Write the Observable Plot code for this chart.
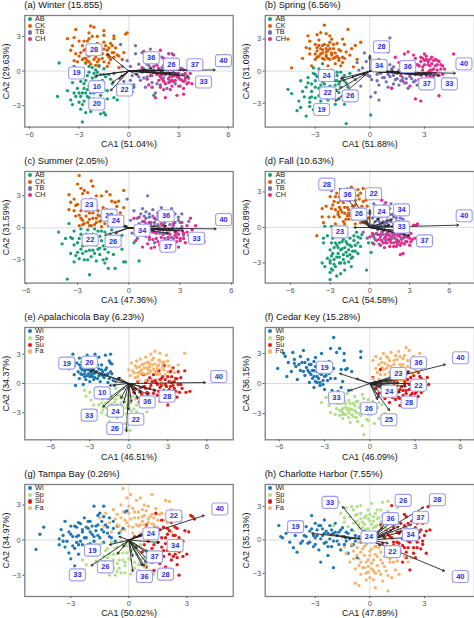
<!DOCTYPE html>
<html><head><meta charset="utf-8">
<script src="https://cdn.jsdelivr.net/npm/d3@7"></script>
<script src="https://cdn.jsdelivr.net/npm/@observablehq/plot@0.6"></script>
<style>
html,body{margin:0;padding:0;background:#fff}
#c{position:relative;width:474px;height:618px;overflow:hidden;font-family:"Liberation Sans",Arial,sans-serif}
#c svg{position:absolute;background:transparent}
.t{position:absolute;font-size:9.3px;color:#111;line-height:12px;white-space:nowrap}
.l{position:absolute;font-size:7.3px;color:#222;line-height:6.4px;height:6.4px;white-space:nowrap}
.l i{position:absolute;width:4.2px;height:4.2px;border-radius:50%;left:-7.2px;top:1.1px}
</style></head><body><div id="c"></div>
<script>
const seasonGroups=["AB","CK","TB","CH"], seasonColors=["#1b9e77","#d95f02","#7570b3","#e7298a"];
const estuaryGroups=["Wi","Sp","Su","Fa"], estuaryColors=["#1f78b4","#b2df8a","#e31a1c","#f6b56c"];
const titles=["(a) Winter (15.855)","(b) Spring (6.56%)","(c) Summer (2.05%)","(d) Fall (10.63%)","(e) Apalachicola Bay (6.23%)","(f) Cedar Key (15.28%)","(g) Tampa Bay (0.26%)","(h) Charlotte Harbor (7.55%)"];
const xTitles=["CA1 (51.04%)","CA1 (51.88%)","CA1 (47.36%)","CA1 (54.58%)","CA1 (46.51%)","CA1 (46.09%)","CA1 (50.02%)","CA1 (47.89%)"];
const yTitles=["CA2 (29.63%)","CA2 (31.09%)","CA2 (31.59%)","CA2 (30.89%)","CA2 (34.37%)","CA2 (36.15%)","CA2 (34.97%)","CA2 (35.13%)"];
const xDomains=[[-6.27,6.29],[-5.75,5.75],[-6.08,6.1],[-7.9,7.9],[-8,8.03],[-6.93,6.93],[-5.38,5.4],[-5.75,5.75]];
const yDomains=[[-4.85,4.81],[-5.23,5.2],[-5.18,5.28],[-4.7,4.73],[-5.76,5.73],[-5.63,5.6],[-4.82,4.75],[-5.1,5]];
const xTicks=[[-6,-3,0,3,6],[-3,0,3],[-6,-3,0,3,6],[-6,-3,0,3,6],[-6,-3,0,3,6],[-6,-3,0,3,6],[-3,0,3],[-3,0,3]];

const winter_AB=[-4.2,.7,-4.3,-2.2,-2.8,-4.4,-1.4,-3.8,-3.7,-1.7,-3.5,-2.5,-3.4,-2.9,-3.2,-2.2,-3.1,-1.5,-3,-2.7,-2.9,-.9,-2.9,-3.3,-2.8,-1.9,-2.7,-1.1,-2.7,-2.6,-2.6,-3.6,-2.5,-.4,-2.5,-1.6,-2.4,-2.3,-2.3,-3,-2.2,-1,-2.2,.3,-2.1,-1.9,-2,-2.8,-2,-.5,-1.9,-1.3,-1.8,.5,-1.8,-3.2,-1.7,-2.1,-1.6,-.8,-1.5,-1.6,-1.5,-3.6,-1.3,-2.4,-1.2,-.3,-1,-1.1,-.9,-2.3,-.7,-2.5,-3.3,.4,-3.1,-.4,-2.8,.2,-2.6,.7,-3.4,-1,-2.4,-1.3,-2.9,-2.2,-2.1,-.2,-2.6,-1.9,-1.5,.2,.3,-1.4,1.5,-2.1,-2.9,-.3,-2.7,-1.5,-2.6,-.8,-2.5,-2.2,-2.4,-.1,-2.3,-1.9,-2.2,-.6,-2.1,-1.4,-2.1,-2.4,-2,.1,-1.9,-.9,-1.8,-1.7,-1.8,-2.6,-1.7,-.3,-1.6,-1.2,-1.4,-.5,-1.3,-1.7,-1.1,-.7,-2.3,-3.5,-3,-1.9,-3.3,-1.9,-2.8,-2.9,-2.4,.4,-1.7,-3.7,-1.9,-.1];
const winter_CK=[-2.3,3.9,-2.1,3.8,-3.2,3.6,-1.5,3.5,-1.5,3.1,-3.7,2.8,-.1,3.3,-.2,3.2,-.9,3.05,-2.4,3.3,-2.2,3,-2.5,2.6,-3,2.6,-2.8,2.2,-3.4,2.2,-3.5,1.8,-3.2,1.5,-2.9,1.6,-2.7,1.1,-2.5,1.4,-3.1,.8,-2.6,.7,-2.4,.8,-2.1,1,-1.9,2.4,-1.7,2,-1.5,2.5,-1.3,1.8,-1.1,2.4,-1,2.2,-.9,1.6,-.7,1.4,-.6,1.3,-.3,1.6,-.9,2.8,-1.8,.4,-1.8,1,-1.5,.8,-1.3,.4,-2,.5,-.6,.3,-.4,1,-1.2,1.2,-2.6,1.9,-3.3,.9,-2.3,1.6,-1.6,1.5,-3,1.3,-2.8,1,-2.7,1.8,-2.6,1.1,-2.5,.9,-2.4,1.3,-2.3,.6,-2.2,1.9,-2,1.2,-1.9,.8,-1.8,1.7,-1.6,1.1,-1.5,1.9,-1.4,2.2,-1.3,1.4,-1.2,2,-1.1,1,-1,1.6,-.9,1.2,-.8,2,-2.7,2.6,-2.4,2.8,-3.3,2.9,-1.9,3,-1.2,.7];
const winter_TB=[-.9,-.2,-.4,.4,-.3,-.9,-.1,.9,.1,.4,.3,-1.2,.4,1.5,.5,-.3,.6,.6,.7,-.8,.8,1.6,.9,.2,1,-1.4,1,1,1.1,-.5,1.2,.5,1.3,1.9,1.4,-1,1.5,.1,1.6,-1.9,1.7,.8,1.7,-.3,1.8,1.4,1.9,-1.2,2,.3,2.1,-.6,2.2,1,2.3,-1.5,2.4,.1,2.5,-.4,2.6,1.5,2.7,-.9,2.8,.5,2.9,-.2,3.1,-1.3,3.2,.2,3.4,-.8,3.5,.1,.2,-.4,.8,-.1,.4,2.2,-.5,2.3,1.1,.6,1.3,.3,1.4,-.4,1.6,.7,1.8,.2,1.9,-.5,2,-.1,2.1,.5,2.2,-.3,2.3,.7,2.4,-.7,2.5,.4,2.6,-.2,2.7,.2,2.9,.3,3,-.6,.6,-.5,.9,-.6,1.1,1.3,1.5,1.1,2,1.2,3.3,-.3,.1,-.8,1.7,-1.1,2.8,-1.1];
const winter_CH=[.8,.3,.9,1.7,1.1,-.7,1.3,1.2,1.4,-1.4,1.5,-.1,1.6,-2.3,1.7,.5,1.8,-.8,1.9,1.8,2,-.3,2.1,1.1,2.2,-1.1,2.3,.4,2.4,-.6,2.5,-1.6,2.6,.1,2.7,1.4,2.7,-.9,2.8,-.3,2.9,.7,3,-1.3,3,-.5,3.1,.2,3.2,-.8,3.3,-2,3.4,-.2,3.5,-1.1,3.6,-.6,3.7,-.2,3.8,-1.1,4.2,-1,2.9,-2.1,1.2,-1.2,.2,-1.8,2.2,-2.3,3.3,-1.5,2.5,-.9,2,-.7,1.6,.8,2.1,-1.6,1.9,-.4,2.6,-.5,1.7,-.3,1.8,.2,1.9,-.5,2.1,-.9,2.2,-.2,2.3,.1,2.4,-1,2.5,-.2,2.6,-.8,2.7,-.4,2.8,-.8,2.9,-.5,3,-.2,3.1,-.7,3.2,-.3,3.3,-.9,3.4,-.6,2.2,.7,1.5,.4,2.4,1.5,1.3,-.4,3,.3,3.6,-1,1.9,-1.4,2.6,-1.3];

const spring_AB=[-4.5,-1.7,-4.3,-2.1,-4,-3.7,-3.9,-2.8,-3.8,-.9,-3.8,-3.4,-3.6,-2.4,-3.5,-1.5,-3.5,-4.2,-3.4,-.6,-3.3,-2.5,-3.3,-3.3,-3.2,-1.2,-3.2,-1.9,-3.1,-3.6,-3.1,-.2,-3,-2.5,-3,-.9,-2.9,-3.2,-2.8,-1.6,-2.8,.2,-2.7,-2.8,-2.6,-1,-2.5,-.4,-2.5,-1.9,-2.4,-3.2,-2.3,-2.7,-2.2,-1.4,-2.1,.1,-2.1,-.8,-2,-2,-1.9,-3.1,-1.9,-1.3,-1.8,-.4,-1.8,-.9,-1.7,-2.6,-1.6,-1.5,-1.6,-.1,-1.5,-2.4,-1.4,-.9,-1.4,-3.1,-1.4,-.4,-1.2,-1.5,-1.3,-4.9,.05,-4.1,-1.1,-.2,-3,-.3,-2.6,.7,-3.1,.3,-2.4,-2.5,-3.2,-2.4,-3,-1.5,-2.9,-.5,-2.8,-2.3,-2.7,-1.3,-2.6,-2.3,-2.5,-1.2,-2.4,-.7,-2.3,-1.9,-2.2,-.3,-2.1,-1.5,-2,-.6,-2,-2.5,-1.9,-1.7,-1.8,-.1,-1.7,-1.2,-1.7,-2,-1.5,-.7,-3.4,-1.1,-3.7,-1.9,-3.3,-2.9,-2.6,-3.1,-2.2,-2.2,-1.3,-1.1,-1.9,-.9];
const spring_CK=[-4.5,3,-4.3,.3,-2.5,4.3,-3.4,3.3,-2.9,3.4,-3.3,2.8,-2.7,3.6,-2.4,3.5,-1.5,3,-2.1,3,-1.2,3.9,-3.5,2.2,-3,2.5,-2.8,2.9,-2.6,2.4,-2.4,2.1,-2.2,2.7,-2,2.1,-1.8,2.6,-1.6,1.9,-1.4,2.5,-1.3,1.8,-3.7,1.2,-3.3,1.6,-3,1.1,-2.9,1.9,-2.7,1.6,-2.6,1.2,-2.4,1.5,-2.2,1.1,-2.1,1.7,-1.9,1.3,-1.9,.7,-1.7,1,-1.6,.5,-1.4,1.2,-1.1,1.5,-1,2.1,-.8,2.4,-.7,1.1,-.5,2.7,-.9,.4,-3.2,.5,-2.3,.5,-2.6,2,-2.3,1.9,-3,1.6,-2.9,2.2,-2.8,1.4,-2.7,2.1,-2.6,1.7,-2.5,2.5,-2.5,1.1,-2.4,1.8,-2.3,1.2,-2.2,2.1,-2.1,1.5,-2,2.5,-2,1.2,-1.9,1.7,-1.8,1.4,-1.7,2,-1.7,1.2,-1.5,1.3,-3.3,2.1,-2.8,2.4,-2.4,1.4,-2.3,2.4,-2.9,1.3,-1.5,.8,-2.2,3.3];
const spring_TB=[-1.5,-.6,-1.2,-1.4,-1,-2,-.8,-.8,-.7,.8,-.5,-1.4,-.4,.3,-.3,1.7,-.2,.9,-.1,-.4,0,1.2,.1,-.8,.2,.5,.3,-2,.4,-.3,.5,-1.3,.6,.7,.7,-.6,.5,-2.7,.8,.2,.9,-1,1,1.8,1.1,3.1,1.1,-.5,1.2,-1.6,1.3,.4,1.4,-.8,1.5,-.2,1.6,-1.3,1.7,.6,1.8,-.6,1.9,-1.1,2,-.1,2.1,-1.6,2.2,-.5,2.3,.3,2.4,-1,2.5,-.3,2.6,-1.3,2.7,.5,2.9,-.7,3.1,-.3,3.3,-.1,3.5,-.5,.05,-2.4,0,-.5,.3,.3,.4,-.9,.6,-.2,.8,-.6,.9,.3,1,-.3,1.2,.2,1.3,-.4,1.5,-.7,1.6,.1,1.7,-.9,1.8,.3,2,-.7,2.1,-.2,2.3,-.7,2.5,-.9,2.7,-.3,1.3,-1.2,1.1,.6,.5,1.1,-.3,-.3,-.6,.1,1,-1.5,2,-1.1];
const spring_CH=[1.2,-1.6,1.4,1.3,1.6,.8,1.7,-.4,1.9,1.6,2,.2,2.1,1.8,2.2,-1.4,2.3,.7,2.4,-.2,2.5,1.2,2.5,-2.6,2.7,-.8,2.7,.5,2.8,1.3,2.8,-2.8,2.9,.1,3,1,3.1,-.4,3.1,1.4,3.2,.6,3.3,.1,3.3,1.1,3.4,-.6,3.4,.7,3.5,.2,3.6,1.1,3.6,-.2,3.7,.6,3.8,-.4,3.8,.9,3.9,.2,4,-.3,4.1,-.7,3.8,-2.3,4.6,1.6,2.9,-1.3,2.4,1.5,1.8,-.9,3,1.6,3.5,-.9,2.6,.6,3.2,-.9,4,.5,2.6,.6,2.7,-.2,2.8,.9,2.9,.4,3,-.2,3,.6,3.1,1.1,3.2,-.1,3.2,.9,3.3,.5,3.4,.1,3.5,1,3.5,-.2,3.6,.5,3.7,.1,3.7,1,2.4,.2,2.2,-.3,3,-.8,3.3,-.5,3.9,.6,4.1,.2,2.9,1.2,2.3,.9,3.4,1.3];

const summer_AB=[-4.1,-.4,-3.9,-1.5,-3.6,-4.8,-3.7,-1,-3.5,.4,-3.4,-2.4,-3.2,-.3,-3.2,-1.6,-3.2,-3.2,-3,-2.3,-2.9,-1,-2.9,-2.9,-2.8,-.1,-2.7,-1.7,-2.6,-3,-2.5,-2.2,-2.5,-.6,-2.3,-1.4,-2.3,-4.4,-2.2,-2.7,-2.2,.2,-2.1,-2.1,-2,-.9,-1.9,-3.1,-1.9,-1.6,-1.8,-.3,-1.7,-2.5,-1.6,-1.2,-1.5,-3,-1.4,-2,-1.4,-.4,-1.3,-2.9,-1.2,-3.8,-1.1,-1.5,-1,-.2,-.9,-2.5,-.8,-3.8,-.6,-1.1,-.4,-2,-.3,-3.2,-.4,-.7,-.2,-3.2,.6,-3.1,.3,-1.4,-2.8,-2,-2.4,-1.2,-1.7,-1.9,-3.4,-.9,-2.6,-1.1,-2.1,-.6,-3.3,-1,-3,-1.4,-2.8,-.6,-2.7,-2.4,-2.6,-1.2,-2.5,-1.6,-2.4,-.2,-2.3,-2.1,-2.2,-1,-2.1,-1.5,-2,-.1,-2,-2.4,-1.9,-1,-1.8,-2,-1.7,-.8,-1.6,-.3,-1.5,-1.7,-1.3,-.9,-1.2,-2.3,-1.1,-.6,-2.4,-3,-3.1,-2.6,-.7,-1.6,-.9,-1.2,-1.4,-3.3];
const summer_CK=[-2.9,4.9,-3,4.1,-2.2,4.4,-2.1,3.9,-2.8,3.7,-2.4,3.3,-3.5,3.1,-2.7,3.2,-3.2,2.7,-1.3,3.4,-1.1,3.1,-.3,3.5,-1.6,3,-3.4,2.4,-3.5,1.7,-3.2,1.6,-3,2.2,-2.9,1.2,-2.8,.9,-2.6,.4,-2.5,1.6,-2.3,.8,-2.1,1.4,-2,.3,-1.9,2.1,-1.8,1.2,-1.7,.6,-1.5,1.9,-1.4,.8,-1.2,1.3,-1,2.5,-.8,2.4,-.6,2.5,-.5,1.4,-.4,.6,-.3,1.9,-1.6,.1,-2.4,1.7,-1.9,.9,-2.9,.2,-2.2,.2,-.8,.7,-3.1,1.1,-1.1,.4,-3.1,2.1,-2.8,1.6,-2.7,.7,-2.6,2.3,-2.5,1.1,-2.4,.5,-2.3,1.4,-2.2,2.7,-2.1,.9,-2,1.7,-1.9,.5,-1.8,1.6,-1.7,1.1,-1.6,.7,-1.5,1.3,-1.4,.4,-1.3,1.7,-1.1,.9,-.9,1.5,-.7,2,-2.6,3.5,-1.9,3,-2.3,.2,-1.2,.2,-2.7,.3];
const summer_TB=[-.1,2.7,.1,.7,.2,-.5,.3,1.6,.5,.9,.5,-1,.7,1.3,.7,.1,.8,1.8,.9,-.7,1,1.5,1,.4,1.1,3,1.2,1,1.3,-.3,1.4,1.7,1.5,.5,1.5,-1.4,1.7,1.1,1.8,-.5,1.9,1.9,2,.3,2.1,-1,2.2,1,2.3,-.1,2.4,.8,2.5,-.9,2.6,.2,2.7,1.3,2.8,-.5,2.9,.7,3,-.1,3.1,1.3,3.2,-.7,3.5,.6,2.5,1.8,.6,.4,1.2,-1.1,1.5,.2,.4,.1,.8,.6,1,.9,1.1,-.2,1.3,.5,1.4,1.1,1.5,-.4,1.6,.8,1.7,.3,1.8,-.2,1.9,.9,2,-.5,2.1,.5,2.2,1.4,2.3,-.5,2.4,.3,2.5,.9,2.6,-.1,2.7,.5,2.8,-.1,3,.5,3.1,.1,.9,1.1,1.2,1.3,1.9,1.4,2.9,1];
const summer_CH=[.3,.9,.4,-1.2,.5,-.3,.6,1,.8,-1.8,.9,.2,1,-.8,1.1,-1.5,1.2,.5,1.3,-1.9,1.4,-.4,1.5,.9,1.6,-1,1.7,-.1,1.8,-1.6,1.9,.4,2,-.6,2,-1.3,2.1,.1,2.2,-2.2,2.3,-.9,2.4,-.2,2.5,-1.5,2.6,.4,2.7,-.7,2.8,-1.3,2.9,-.2,3,-1,3.1,.5,3.2,-.5,3.3,-1.4,3.4,.2,3.5,-.7,3.6,.9,3.7,-.2,3.9,.2,4,-.9,4.3,-.6,4.4,-1.3,1.7,1.4,2.9,-1.8,2.3,-1.5,1.2,-.4,1,-.3,1.2,-.9,1.3,.2,1.4,-1.1,1.6,-.5,1.7,-1.3,1.8,-.1,1.9,-.9,2,-.2,2.1,-1.5,2.2,-.5,2.3,-1.1,2.4,-.6,2.5,-.1,2.6,-1,2.7,-.4,2.8,-.9,2.9,-.6,3,-1.2,3.1,-.1,3.2,-1,3.4,-.4,.7,-.6,.9,.6,1.5,-1.8];

const fall_AB=[-3.5,-1.3,-3.5,-.9,-3.6,-3,-3.4,-3.3,-3.2,-2.6,-3.2,-.7,-3,-4.4,-3,-3.8,-3,-1.9,-3,-3,-2.9,-1.3,-2.9,-2.4,-2.8,-3.6,-2.8,-.9,-2.7,-2.7,-2.7,-1.7,-2.6,-3.3,-2.5,-4.1,-2.5,-.6,-2.4,-2.2,-2.3,-1.3,-2.3,-3,-2.2,-3.9,-2.1,-1.8,-2.1,-.2,-2,-2.7,-2,-1,-1.9,-3.6,-1.8,-2.1,-1.8,-.5,-1.7,-1.4,-1.6,-2.9,-1.5,-2.3,-1.5,-.9,-1.4,-3.3,-1.4,-1.6,-1.3,-2.5,-1.2,-1.1,-1.1,-2,-1,-.4,-.9,-1.3,-.9,-2.2,-.7,-1.6,-.6,-.6,-.25,-3.6,-.1,-1.3,.1,-2.1,.2,-1.3,.3,-.6,-2.5,-1.5,-2.9,.1,-3.4,.1,-3,-2.8,-2.9,-3.5,-2.8,-2.2,-2.7,-3.1,-2.6,-1.3,-2.5,-2.5,-2.4,-1.7,-2.3,-2.5,-2.2,-1.9,-2.2,-3,-2.1,-1.2,-2,-2.3,-1.9,-1.7,-1.9,-3,-1.8,-1.2,-1.7,-2.4,-1.6,-1.9,-1.5,-1.5,-1.4,-2.6,-1.3,-2,-1.2,-.7,-1.1,-1.5,-.9,-.8,-.7,-.9,-2.2,-.4];
const fall_CK=[-4,-.7,-3.6,.9,-3.6,1.6,-3.5,.4,-3.3,1.8,-3.1,.9,-3,2.6,-2.9,3.1,-2.9,1.6,-2.7,2.2,-2.6,.3,-2.6,1.5,-2.5,2.9,-2.4,2.1,-2.3,.9,-2.3,2.6,-2.2,1.5,-2.1,3.2,-2,.5,-2,2.1,-1.9,1.2,-1.8,2.7,-1.7,1.7,-1.6,.7,-1.5,2.3,-1.4,3.4,-1.3,1.2,-1.2,2.8,-1.1,.3,-1.1,1.9,-1,1.4,-.9,3.2,-.8,2.4,-.7,.8,-.6,1.8,-.5,3.3,-.4,.4,-.3,1.2,-.3,2.3,-.1,.8,-1.6,1.2,-2.4,1.1,-2.7,.9,-1.3,.7,-1.9,.3,-2.8,1.9,-2.6,2.6,-2.4,1.3,-2.3,1.7,-2.2,2.3,-2.1,1.3,-2,2.7,-1.9,1.7,-1.8,.7,-1.7,2.3,-1.6,1.5,-1.5,1,-1.4,2.8,-1.3,1.8,-1.2,.8,-1.1,2.3,-1,1,-.9,2.7,-.8,1.6,-.7,2.9,-.7,.4,-.5,2.2,-.4,1.5,-.2,1.8,-1.7,1];
const fall_TB=[-.5,-.4,-.3,.4,-.2,-.9,0,1.2,.1,.2,.2,.8,.2,-.7,.4,-1,.4,.5,.5,1.6,.6,-.2,.7,.9,.7,-1.4,.8,.2,.9,1.3,1,-.6,1,.5,1.1,1.9,1.2,-1.1,1.2,.1,1.3,.9,1.4,-.4,1.5,.6,1.5,1.6,1.6,-.9,1.7,.1,1.8,.9,1.9,-.4,2,.5,2.1,-1.3,2.2,.1,2.3,.8,2.4,-.5,2.5,.3,2.7,-.2,2.8,.3,1.6,2,.3,2,.9,.9,1.3,.4,.6,.7,.4,1.1,.6,.1,.7,.5,.9,-.4,1,1.1,1.1,.3,1.2,-.6,1.3,.6,1.4,.2,1.5,1.1,1.5,-.3,1.6,.5,1.7,1.1,1.8,.3,1.8,-.7,1.9,.1,2,.8,2,-1,2.1,.4,2.2,-.3,2.3,.3,2.4,-.9,2.5,.7,2.6,-.1,.8,-.8];
const fall_CH=[0,-.8,.2,-.5,.3,-1.4,.5,-1.1,.6,-.6,.8,-1.5,.9,-1.1,1,-.3,1.1,-1.7,1.2,-.8,1.3,-1.3,1.4,-.6,1.5,-1.6,1.6,-1,1.7,-.5,1.8,-1.3,1.9,-.9,2,-1.6,2,-.3,2.1,-1.1,2.2,-.6,2.3,-1.5,2.3,-2.3,2.5,-2.2,2.4,-1,2.5,-.5,2.6,-1.4,2.7,-.8,2.8,-.3,2.8,-1.2,2.9,-.7,3,-1.5,3.1,-.5,3.2,-1,3.3,.2,3.4,-.9,3.6,.3,3.7,-.8,3.8,-1.3,3.5,.2,2.2,.5,1.2,2.1,.9,2.3,2.1,-1.4,1.5,-1.1,.3,-.8,.5,-.5,.7,-1,.8,-.6,1,-1.3,1.1,-.9,1.2,-1.3,1.4,-1,1.5,-.7,1.6,-1.3,1.7,-.8,1.8,-1.6,1.9,-.6,2,-1.2,2.1,-.7,2.2,-1.2,2.3,-.8,2.4,-1.3,2.5,-.9,2.6,-.7,2.7,-1.2,2.8,-.8,3,-.9,3.1,-1.2,1.3,-.5];

const apa_Wi=[-4.6,1.5,-4.3,3,-4.2,1.8,-4.2,.9,-4.1,-.2,-4,2.1,-3.9,1.2,-3.8,2.6,-3.8,.5,-3.7,1.6,-3.6,2.2,-3.6,.9,-3.5,-.1,-3.4,1.3,-3.3,1.9,-3.3,.4,-3.2,2.9,-3.1,1,-3.1,2.3,-3,1.5,-3,.2,-2.9,1.2,-2.8,2.6,-2.8,.7,-2.7,1.9,-2.6,1.1,-2.6,3,-2.4,.5,-2.3,1.5,-2.3,2.7,-2.2,.9,-2.1,1.9,-2,1.2,-1.9,.6,-1.8,2.9,-1.7,1.6,-1.6,.1,-1.5,2.3,-1.4,2.1,-1.3,1,-1.4,3,-1.2,.3,-1.1,-.2,-.8,.5,-1.3,2,-1.8,.9,-3.4,.7,-2.7,.4,-3.5,1.6,-2.2,.2,-3.8,1.9,-3.7,1,-3.6,1.4,-3.5,2,-3.4,1,-3.3,1.4,-3.2,.8,-3.2,1.8,-3.1,1.4,-3,.7,-3,2,-2.9,.9,-2.8,1.5,-2.7,1,-2.6,.6,-2.6,1.7,-2.5,1.2,-2.4,1.9,-2.3,.8,-2.1,1.4,-2,.8,-1.8,1.4,-1.6,1,-1.5,.5,-1.4,1.2];
const apa_Sp=[-3.4,-.7,-3.3,-1.3,-3,-.9,-2.9,-1.7,-2.7,-2.2,-2.6,-.6,-2.5,-2.8,-2.4,-1.3,-2.3,-2.2,-2.2,-.4,-2.1,-3,-2,-1.6,-1.9,-2.4,-1.8,-.7,-1.7,-3.2,-1.6,-1.9,-1.5,-2.7,-1.5,-3.9,-1.4,-1.2,-1.3,-2.1,-1.3,-3.3,-1.2,-4.2,-1.1,-2.7,-1,-.5,-1,-1.6,-.9,-2.2,-.9,-3.5,-.8,-2.9,-.7,-1.2,-.6,-2,-.5,-3.1,-.4,-.5,-.4,-1.5,-.3,-4.1,-.2,-2.5,-.1,-1.2,-.1,-3.4,-.2,-4.6,.1,-2,.1,-4.8,.3,-.7,.4,-2.6,.5,-1.6,.6,-2.9,.8,-3.2,1.4,-2.9,1,-1.3,.2,-3.3,-2.3,-1,-2.1,-2,-2,-2.7,-1.9,-1.3,-1.8,-2,-1.7,-2.5,-1.6,-1.2,-1.5,-3.2,-1.4,-2.2,-1.3,-1.5,-1.2,-2.9,-1.1,-1.9,-1,-3.3,-.9,-1.2,-.8,-2.4,-.7,-3.3,-.6,-1.5,-.5,-2.5,-.3,-1.9,-.2,-3.1,-.1,-2.2,0,-1.2,.2,-2.8,.3,-1.3,.6,-2.2];
const apa_Su=[.2,-.2,.4,-.9,.5,-.6,.6,-1.5,.7,.2,.9,-.4,1,-1.1,1.1,.9,1.2,-1.6,1.3,-.5,1.4,.3,1.5,-1,1.6,.6,1.7,-.2,1.8,-1.5,1.9,.9,2,-.7,2.1,.1,2.2,-1.2,2.3,1.3,2.4,-.4,2.5,.5,2.6,-1,2.7,1.8,2.8,-.1,2.9,-1.5,3,.7,3.1,-.6,3.2,1.2,3.3,-1,3.3,.1,3.4,1.6,3.5,-.5,3.6,.5,3.7,-1.4,3.8,1.2,3.8,-.1,3.9,-.9,4,.6,4.1,-.5,4.3,1.3,4.4,-.9,4.7,-.8,.8,-1.9,3,-2.2,2.4,-1.8,.9,-.9,1.2,-.3,1.4,-.9,1.6,-.5,1.8,.2,1.9,-1,2,.3,2.2,-.1,2.3,-.8,2.4,.4,2.5,-.2,2.6,.7,2.7,-.7,2.8,.4,2.9,-.3,3,-1,3.1,.2,3.2,-.3,3.3,.7,3.4,-.2,3.5,.2,3.6,-.8,3.7,.5,4,-.1,1.3,.1];
const apa_Fa=[0,1.4,.1,.8,.2,2.1,.3,1.3,.4,-.1,.5,1.8,.5,.6,.6,2.3,.7,1.1,.8,1.7,.8,.3,.9,2.5,1,1.4,1.1,2,1.2,.9,1.3,2.7,1.3,.3,1.4,1.6,1.5,2.2,1.6,1.1,1.7,3,1.7,.5,1.8,1.9,1.9,2.6,2,1.3,2,3.3,2.1,.4,2.2,1.8,2.3,2.4,2.4,1,2.4,3.1,2.5,.1,2.6,1.7,2.7,2.2,2.8,.9,2.9,2.9,3.1,1.8,3.2,.3,3.3,1.4,3.5,1.1,3.8,1.9,4.3,3.1,.9,1,1.6,1.7,2.2,.9,.4,1.1,.6,1.6,.7,.7,.9,1.3,1,1.9,1.1,1,1.2,1.6,1.3,2.1,1.4,1,1.5,1.4,1.6,2,1.7,1.3,1.8,2.4,1.9,1.5,2,2,2.1,1.1,2.2,1.5,2.3,1.9,2.4,1.4,2.6,2.1,2.7,1.4,2.8,1.9,3,1.2,3,2.3,2.4,2.3];

const ced_Wi=[-6.1,1.5,-5.7,3,-5.6,2.7,-5.5,.7,-5.4,2.1,-5.2,1.2,-5.1,3.1,-5,2.4,-4.9,1.7,-4.8,.4,-4.6,2.7,-4.6,1.3,-4.5,2.1,-4.4,3.3,-4.3,.8,-4.2,1.6,-4.1,2.4,-4,.1,-4,1.1,-3.9,1.9,-3.8,.5,-3.7,-.4,-3.7,1.3,-3.6,2.6,-3.5,.7,-3.5,.1,-3.4,1.8,-3.3,-.2,-3.3,1,-3.2,3,-3.1,.3,-3,1.7,-3,-.6,-2.9,.8,-2.7,2.2,-2.6,1.2,-2.6,3.5,-2.5,-.7,-2.4,4.6,-2.3,.5,-2.2,3.1,-2.1,-.8,-2,3.5,-1.9,1.4,-1.8,.2,-1.7,3,-1.6,1.4,-1.5,1.5,-1.4,-.7,-1.7,2.3,-.6,3.2,-.6,2.6,-1.9,-.4,-1.2,1.2,-4.4,1.2,-4.3,2.1,-4.1,1.3,-4,1.9,-3.9,.9,-3.8,1.3,-3.7,2.2,-3.7,.7,-3.6,1.7,-3.6,.2,-3.5,1.2,-3.4,.5,-3.4,1.4,-3.3,.1,-3.2,.9,-3.2,1.6,-3.1,-.1,-3,.7,-2.9,1.3,-2.8,.3,-2.7,1,-2.6,.5,-2.4,1.5,-4.7,1.9,-5,2];
const ced_Sp=[-3.2,-1.9,-2.9,-1.4,-2.7,-2.2,-2.6,-2.9,-2.4,-1.8,-2.3,-3.1,-2.2,-2.5,-2.1,-1.3,-2,-3.2,-2,-2,-1.9,-2.7,-1.8,-3.5,-1.7,-1.7,-1.6,-2.4,-1.6,-3.1,-1.5,-1,-1.4,-2.9,-1.3,-3.9,-1.3,-2,-1.2,-2.6,-1.1,-3.3,-1,-1.3,-1,-2.2,-.9,-2.9,-.8,-3.8,-.8,-1.8,-.7,-2.4,-.6,-3.2,-.5,-1.1,-.5,-4.2,-.4,-2.1,-.4,-5.1,-.3,-2.9,-.2,-3.6,-.1,-1.6,-.1,-3.7,0,-2.5,.1,-3.1,.2,-1.8,.3,-4,.5,-2.4,.6,-3.5,.8,-2.1,1,-3,-1.4,-2.5,-1.8,-2.9,-2.2,-2,-2,-2.7,-1.9,-1.8,-1.8,-2.5,-1.7,-3.1,-1.6,-2,-1.5,-2.6,-1.4,-1.7,-1.4,-3.4,-1.3,-2.6,-1.2,-3.1,-1.1,-2,-1,-2.7,-.9,-3.4,-.9,-1.8,-.7,-3,-.6,-2.1,-.5,-2.6,-.4,-1.5,-.2,-2.4,-.1,-3.1,.1,-2.2,.3,-2.7,.6,-1.9,-1.8,-3.1];
const ced_Su=[.2,.6,.4,-.5,.6,-1,.7,.2,.8,1.5,.9,-.8,1,-1.5,1.1,.3,1.2,-.5,1.3,-1.9,1.4,.7,1.5,-1,1.6,-.2,1.7,-1.6,1.8,.4,1.9,-.8,2,-2.2,2,.9,2.1,-.3,2.2,-1.2,2.3,-1.9,2.3,.2,2.4,-.7,2.5,1.1,2.6,-1.5,2.6,-.1,2.7,.6,2.8,-1,2.9,-.4,2.9,-1.8,3,.3,3.1,-.8,3.2,1.1,3.2,-1.3,3.3,-.2,3.4,.5,3.5,-.7,3.6,.2,3.7,-.3,3.8,.6,3.9,-.1,.7,1.4,1.9,-1.4,2.4,-1,1.4,-.7,.9,-.3,1.2,.2,1.4,-.4,1.5,-1.4,1.6,.3,1.7,-.8,1.8,-.2,1.9,.5,2,-.6,2,-1.5,2.1,.4,2.2,-.7,2.3,-.1,2.4,-1.5,2.5,.4,2.6,-.6,2.7,-1.2,2.8,.2,2.8,-.6,2.9,.8,3,-1,3.1,-.2,3.3,.7,3.4,-.9,3.6,-.4];
const ced_Fa=[.2,.5,.2,2.3,.4,1.5,.4,2.7,.6,1.9,.7,.9,.7,2.5,.9,3,.9,1.4,1,2,1.1,.2,1.2,2.6,1.3,1.1,1.4,3.1,1.4,1.7,1.5,.6,1.6,2.3,1.7,2.8,1.8,1.3,1.8,-.2,1.9,3.2,2,1.9,2.1,.7,2.2,2.5,2.3,1.2,2.4,3.6,2.5,1.7,2.5,.1,2.6,3.3,2.7,2.2,2.8,1,2.9,2.7,3,1.4,3.1,2.2,3.3,2,3.4,1.5,3.3,3,1.6,1,1.1,1.5,.5,-.4,2.2,.4,.6,.4,.8,1.6,1,.9,1.2,1.8,1.3,2.3,1.5,1.3,1.6,1.9,1.7,.7,1.8,2.4,1.9,1.2,2,2.7,2.1,1.6,2.2,1.9,2.3,2.8,2.4,.9,2.5,2.3,2.6,1.2,2.7,1.6,2.9,1.9,3,2.4,3.1,1.2,.8,2.1,1.1,2.7,.5,1.1,2,.3];

const tam_Wi=[-4.8,-.8,-4.6,.5,-4.4,1.1,-3.6,.1,-3.6,-.4,-3.5,.9,-3.4,.4,-3.3,-.6,-3.3,1.6,-3.2,-.1,-3.1,-1.1,-3.1,.7,-3,-1.6,-3,1.2,-2.9,.3,-2.8,-.7,-2.8,-2.2,-2.7,1.1,-2.7,-.2,-2.6,.4,-2.6,-1.2,-2.5,1.4,-2.4,.7,-2.4,-.4,-2.3,1.9,-2.2,-.9,-2.2,.2,-2.1,1,-2,-.3,-2,1.6,-1.9,.5,-1.8,-.1,-1.8,2.9,-1.7,1.2,-1.6,2.1,-1.6,.4,-1.5,2.3,-1.4,.9,-1.3,2,-1.3,-.2,-1.2,1.3,-1.1,.6,-1,1.9,-.9,.2,-.8,1,-.7,-.1,-.5,.6,-.3,1,-.2,2.4,-.1,2.5,-1.3,2.9,-3,.5,-2.9,-.5,-2.8,1.2,-2.7,.3,-2.6,1.5,-2.5,-.1,-2.4,.9,-2.3,.2,-2.2,1.1,-2.1,-.4,-2.1,1.6,-2,.7,-1.9,1.2,-1.8,.3,-1.7,.8,-1.6,1.3,-1.5,.2,-1.4,1.6,-1.3,.7,-1.1,1.1,-1,.3,-.8,1.6,-.6,1.2,-3.4,-.1,-2.6,-.4];
const tam_Sp=[-2.4,-1.7,-2.2,-2.1,-2,-1.1,-1.9,-.6,-1.7,-1.8,-1.6,-1,-1.5,-2.4,-1.4,-.3,-1.3,-1.4,-1.2,-2.7,-1.1,-.7,-1,-1.9,-.9,-.2,-.8,-1.2,-.8,-2.4,-.7,-3,-.6,-.6,-.5,-1.7,-.4,-.1,-.4,-2.8,-.3,-1.1,-.2,-2.2,-.1,-.5,0,-1.6,.1,-2.9,.1,-.9,.2,.1,.3,-1.9,.4,-1.2,.5,-2.6,.6,-.4,.7,-1.6,.8,-2.3,.9,-.9,1,-1.7,1.1,-2.6,1.3,-2.9,1.4,-1.3,-1,-3,-.5,-2.4,-.2,-2.8,.6,-2,-.8,-1.7,-1.2,-1.8,-1.8,-1.3,-1.6,-.4,-1.4,-1.8,-1.2,-.9,-1,-1.2,-.9,-2.2,-.7,-.7,-.6,-2,-.5,-1.1,-.3,-1.7,-.3,-.4,-.1,-1.1,.1,-1.7,.2,-.8,.3,-2.4,.4,-.5,.6,-1.1,.8,-1.5,1,-1.1,1.2,-1.2,-.6,-2.7,-1.1,-1.5,.5,-2.1,.9,-2,-.2,-1.9];
const tam_Su=[.3,.3,.4,-.6,.6,.4,.7,-1,.8,-.4,.9,1.3,1,-.1,1.1,-1.6,1.2,-.7,1.3,.6,1.4,-1.2,1.4,2.3,1.5,-.2,1.6,-2,1.6,.9,1.7,-.6,1.7,1.7,1.8,-1.4,1.9,.2,1.9,-2.3,2,-.9,2,1,2.1,-.2,2.2,1.5,2.2,-1.7,2.3,-.7,2.4,.4,2.4,-1.2,2.5,-2.1,2.5,1,2.6,-.4,2.6,-3,2.7,-.9,2.7,1.9,2.8,-.1,2.9,.8,3,-1.2,3.1,.7,3.2,2.1,3.3,2,3.4,1.8,.9,-2.3,1.2,-1.9,1.3,-2.6,1,.6,1.2,.2,1.3,-.4,1.5,.5,1.5,-1.4,1.7,.2,1.8,-.9,1.9,-.3,2,.5,2.1,-1.2,2.1,.8,2.2,-.3,2.3,-1.4,2.3,.4,2.4,-.2,2.5,-1.5,2.6,.2,2.6,-1,2.7,-.5,2.8,-1.4,1.1,.3,1.4,.7,1.8,1.1,1.6,-2.7,2.4,1.1];
const tam_Fa=[-1.5,1.9,-1.3,1.2,-1.2,2.3,-1,1.5,-.9,.7,-.8,2.6,-.7,1.8,-.6,2.2,-.5,1.2,-.4,3,-.4,1.9,-.3,4.4,-.2,.9,-.1,3.6,-.1,1.5,0,2.3,.1,3.9,.2,1.1,.2,2.7,.3,1.9,.4,3.4,.5,1.2,.5,2.4,.6,.6,.7,2,.8,3,.8,1.3,.9,2.5,1,1.8,1.1,.7,1.2,3.9,1.2,2.2,1.3,1.3,1.4,2.7,1.5,1.7,1.6,.8,1.7,2.3,1.9,3.4,2,1.5,2.1,3.3,2.2,2.6,2.3,1.2,2.2,.7,.6,3.6,-.6,1.3,-.4,.8,-.3,2.4,-.2,1.7,0,1.2,0,2.9,.1,1.8,.2,.6,.3,2.4,.4,1.3,.5,1.9,.6,1.3,.7,2.6,.7,1.6,.8,2.1,.9,1.1,1,2.9,1,1.5,1.1,2,1.2,1.4,1.3,1.9,1.4,2.2,1.5,1.1,1.6,2.2,1.8,1.7];

const cha_Wi=[-5,1.3,-4.8,.2,-4.6,.6,-4.4,-.2,-4.3,1,-4.2,-.7,-4.1,.4,-4,-1.1,-3.9,.8,-3.8,1.6,-3.7,-.1,-3.6,.4,-3.5,1.2,-3.4,-.3,-3.3,.8,-3.2,2.2,-3.1,-.6,-3,1.5,-3,.2,-2.9,.9,-2.8,-.9,-2.7,1.3,-2.7,-2,-2.6,.4,-2.5,-.3,-2.5,1.8,-2.4,.8,-2.3,-1.4,-2.2,.1,-2.2,1.3,-2.1,-.6,-2,.6,-2,-2.5,-1.9,1.5,-1.8,-.1,-1.7,.7,-1.6,-.9,-1.5,.3,-1.5,1.1,-1.4,-.4,-1.3,.7,-1.2,-1.2,-1.1,.1,-1,.9,-.9,-.4,-.8,.4,-.7,-1.6,-.6,.3,-.5,-.2,-.3,.8,-4.9,.3,-3.5,.3,-3.3,-.2,-3.2,1,-3.1,.4,-3,-.4,-2.9,.4,-2.8,1.3,-2.7,.1,-2.6,1,-2.5,.6,-2.4,-.2,-2.3,.6,-2.3,-.6,-2.1,.9,-2,-.1,-1.9,.7,-1.8,.4,-1.7,-.4,-1.6,.9,-1.4,.3,-1.3,-.1,-1.2,.6,-1,-.5,-.8,-.1,-3.8,-.3];
const cha_Sp=[-1.7,3.4,-1.6,2.4,-1.4,1.6,-1.3,2.9,-1.2,1.2,-1.1,2.1,-1,3,-.9,.8,-.8,1.6,-.7,2.3,-.6,1.1,-.5,3.1,-.5,1.9,-.4,.6,-.3,1.4,-.2,2.2,-.2,-.3,-.1,1,-.1,2.7,0,1.7,.1,.4,.1,3.3,.2,2.1,.3,1.2,.4,2.7,.5,.8,.6,1.6,.7,3.4,.7,2.2,.8,1.2,.9,.2,1,2.6,1,3.5,1.1,1.6,1.2,.7,1.3,2.2,1.4,1.3,1.5,2.9,-.9,2.7,-2,1.3,-.1,.7,.4,1.9,-.9,1.5,-.8,2.2,-.7,1.7,-.6,1.4,-.5,2.4,-.4,1.6,-.3,2,-.2,1,-.1,1.9,0,2.3,.1,1.4,.2,1.7,.3,2.4,.4,1.3,.5,2,.6,1.2,.7,1.7,.8,2.3,.9,1,1,1.9,-.4,1.1,.2,1.1,-1.4,2,-.7,3,.6,2.7];
const cha_Su=[.3,-.6,.4,.6,.6,1.4,.7,-.3,.8,2.1,.9,.9,1,-1.1,1.1,.3,1.2,3.1,1.3,-.5,1.3,1.1,1.4,2,1.5,-.2,1.6,-1.4,1.6,.6,1.7,1.5,1.8,-.5,1.9,.2,1.9,2.3,2,-1.1,2,1,2.1,-.1,2.2,-2.7,2.2,.6,2.3,1.7,2.4,-.7,2.4,.2,2.5,1.1,2.5,-1.6,2.6,-.2,2.7,.7,2.7,2.4,2.8,-.8,2.9,-.1,2.9,1.5,3,.4,3.1,-1.2,3.3,.9,3.2,3,1.8,-2,2,-1.6,1,.5,.8,.2,1,1.5,1.2,.2,1.3,-.2,1.5,.7,1.5,1.5,1.6,-.3,1.7,.8,1.8,.1,1.9,-.7,1.9,1.3,2,.4,2.1,-.7,2.1,1.5,2.2,-.2,2.3,.7,2.4,-1.2,2.5,.5,2.6,-.7,2.6,1.5,2.7,.2,2.8,.9,2.9,-.4,3.1,.8,1.2,1.5,2,2.1];
const cha_Fa=[-1.4,-.6,-1.3,-1.2,-1.1,-2,-1,-.4,-.9,-1,-.8,-2.6,-.7,-1.4,-.6,-.2,-.5,-2,-.5,-3.1,-.4,-.8,-.3,-1.4,-.3,-2.5,-.2,-3.6,-.2,-.4,-.1,-1.8,-.1,-2.9,0,-1,0,-3.4,.1,-2.1,.1,-.2,.2,-2.8,.2,-3.6,.3,-1.3,.3,-4.3,.4,-2.3,.5,-.7,.6,-1.8,.6,-3.1,.7,-3.7,.8,-2.4,.9,-1.1,1,-3.2,1,-4.6,1.1,-2,1.2,-3.4,1.3,-1,1.4,-2.7,1.5,-1.9,1.6,-3.1,1.7,-1,1.9,-1.5,2.1,-2,2.3,-1.6,-.8,-3.9,-.6,-4.1,-.9,-1.7,-.7,-.7,-.6,-2.3,-.5,-1.1,-.4,-2.5,-.3,-.6,-.2,-2,-.1,-2.4,0,-1.4,.1,-2.6,.1,-.8,.2,-1.8,.3,-3,.3,-.6,.4,-1.5,.5,-2.8,.6,-1.1,.7,-2.1,.8,-1.5,.9,-2.8,1,-.8,1.1,-1.7,1.3,-2,-.2,-3,-.6,-1.7];

const pointSets=[[winter_AB,winter_CK,winter_TB,winter_CH],[spring_AB,spring_CK,spring_TB,spring_CH],[summer_AB,summer_CK,summer_TB,summer_CH],[fall_AB,fall_CK,fall_TB,fall_CH],[apa_Wi,apa_Sp,apa_Su,apa_Fa],[ced_Wi,ced_Sp,ced_Su,ced_Fa],[tam_Wi,tam_Sp,tam_Su,tam_Fa],[cha_Wi,cha_Sp,cha_Su,cha_Fa]];

const arrowNames=[[19,28,10,20,22,36,26,37,33,40],[28,34,36,40,33,37,24,22,26,19],[23,28,24,22,26,34,36,37,33,40],[28,36,22,26,24,34,33,23,37,40],[19,20,10,33,24,26,22,36,28,40],[19,33,26,25,24,23,36,22,28,40],[22,40,24,34,37,19,26,33,36,28],[33,26,28,36,37,34,24,19,22,40]];
const arrowX=[[-2,-1.3,-1,-1.1,-.6,1.4,2.8,3.4,3.6,5.2],[0,.3,2,4.7,3.8,2.9,-1.6,-1.7,-1.9,-1.9],[-1.5,-.8,-.4,-1.4,-.8,.7,2.2,2.3,3.2,5.1],[-2.3,-1.7,0,-.5,.7,1.7,2.7,-1.2,3,6.7],[-3,-2.8,-1.5,-2,-.6,-.18,0,.7,2,5.9],[-2,-1.3,.5,1.3,1.2,1.5,2.6,2.8,2,5],[1.5,3.9,1.4,1.6,1,-1,-.6,-1.95,.2,.8],[-1.5,1.1,2.95,.7,2.3,1.7,.3,-3.2,.6,4.1]];
const arrowY=[[-.4,1.5,-1,-1.7,-.7,.2,.1,.1,-.45,.1],[1.5,0,-.1,-.2,-.4,-.4,-.7,-1,-2.8,-1.9],[1.1,.6,.3,-.7,-.5,0,.2,-.5,-.3,-.1],[3.3,3.35,1.5,.8,.8,.7,-.6,0,-.7,.2],[1.3,1.4,-.2,-2.4,-1.5,-4.95,-2.7,-1.5,-.7,.1],[1,-.7,-1.6,-2.7,-.8,.4,1.2,0,-.9,1.9],[1,2.1,1.1,-.2,-1,-.4,-1.2,-2.2,-2.7,-2.2],[3,1.9,2.95,1.1,1.4,.7,.1,.6,-.5,-2.8]];
const extraX=[[1,2,2.5,3,-.5,.5,1.6,2.2,2.8,-1.6],[1,1.6,2.4,3.2,-.4,.6,1.3,2.6,3.4,-1],[1.2,1.8,2.6,2.8,-.3,.4,1.5,.9,2.4,-.2],[1,1.5,2.3,2.8,-.6,.4,1.2,2,-.9,-.3],[-.8,-1.1,.5,1.2,.9,-1.6,1.5,.4,-.4,.2],[1.5,2.2,2.4,.9,-.9,.4,1.8,.8,1.9,.6],[.6,1.1,.4,.9,-.5,.2,1.3,-.3,.7,1],[1.2,1.6,.8,1.9,-1.4,-.5,1,.4,-2.2,1.4]];
const extraY=[[.1,.05,-.2,-.3,-.5,-.3,-.1,.1,-.15,-.3],[0,-.1,-.2,-.3,-.3,-.1,0,-.3,-.25,-.6],[0,-.1,-.1,-.3,.1,-.1,-.2,.1,-.2,.2],[.4,.2,-.3,-.4,.5,.2,-.2,.1,1.2,.9],[.6,.2,-1.1,-.4,-.9,-1.6,-1.2,-.6,-2,-1.9],[.3,.6,-.3,-1.2,.5,.2,-.5,-.3,.1,-1.4],[.4,.7,-.7,-1.9,.3,-1.4,-1.5,-.6,-2.2,-1.7],[.9,1.2,.4,.2,.2,.1,-.3,.6,.5,1.9]];
const labelX=[[-3.15,-2.1,-1.93,-1.93,-.26,1.35,2.57,3.98,4.5,5.7],[.64,.51,2.08,5.17,4.37,3.13,-2.38,-2.32,-1.08,-2.65],[-2.32,-1.15,-.76,-2.26,-.92,.78,2.18,2.28,3.96,5.54],[-3.25,-1.69,.28,-.83,.88,2.39,2.39,-2.26,4.13,7.12],[-4.77,-3.03,-2.05,-3.05,-1.03,-1.08,.54,1.41,2.95,6.92],[-3,-2.21,-.07,1.26,1.28,1.88,3.22,3.22,2.6,6],[2.33,4.71,1.14,2.4,1.33,-1.88,-1.21,-2.66,.81,1.9],[-2.19,1.83,3.71,1.13,2.78,2.23,-.05,-4.08,1.24,4.97]];
const labelY=[[-.17,1.85,-1.35,-2.85,-1.64,1.15,.6,.55,-.95,.9],[2.28,.53,.44,.69,-1.19,-1.19,-.41,-2.03,-2.31,-3.59],[2.16,1.19,.63,-1.13,-1.25,-.22,1.13,-1.72,-.97,.78],[3.66,2.79,2.85,1.13,1.38,1.49,.03,-.37,-1.13,.99],[2.08,2.18,-.96,-3.24,-2.83,-4.6,-3.65,-1.88,-1.3,.72],[1.63,-1.43,-2.47,-3.63,-.77,1,2.07,-.17,-1.87,2.57],[2.06,2.66,.54,-.46,-1.43,-.86,-2.29,-2.97,-3.11,-2.91],[3.39,3.57,3.63,1.92,2.04,.48,.27,1.2,-1.05,-3.3]];

const frameTops=[14.7,14.7,170.7,170.7,327,327,483.7,483.7];
const frameHeights=[111.6,111.6,111.6,111.6,112.3,112.3,112,112];
const root=document.getElementById("c");
const roundBox={draw(ctx){const w=8,h=6,r=2.5;ctx.moveTo(-w+r,-h);ctx.arcTo(w,-h,w,h,r);ctx.arcTo(w,h,-w,h,r);ctx.arcTo(-w,h,-w,-h,r);ctx.arcTo(-w,-h,w,-h,r);ctx.closePath();}};
titles.forEach((title,i)=>{
  const col=i%2, left=col?237:0, marginLeft=col?27.7:24.3, marginRight=col?0:4.3;
  const groups=i<4?seasonGroups:estuaryGroups, colors=i<4?seasonColors:estuaryColors;
  const pts=pointSets[i].flatMap((arr,g)=>d3.range(0,arr.length,2).map(k=>({x:arr[k],y:arr[k+1],g:groups[g]})));
  pts.sort((a,b)=>((a.x*37+a.y*91)%1)-((b.x*37+b.y*91)%1));
  const arrows=arrowX[i].map((x,k)=>({x,y:arrowY[i][k]})).concat(extraX[i].map((x,k)=>({x,y:extraY[i][k]})));
  const labels=labelX[i].map((x,k)=>({x,y:labelY[i][k],name:String(arrowNames[i][k])}));
  const top=frameTops[i]-2, marginTop=2, marginBottom=28;
  const svg=Plot.plot({
    width:237,height:frameHeights[i]+marginTop+marginBottom,marginLeft,marginRight,marginTop,marginBottom,
    x:{domain:xDomains[i]},y:{domain:yDomains[i]},
    color:{domain:groups,range:colors},
    style:{fontFamily:'"Liberation Sans",Arial,sans-serif',background:"transparent",overflow:"visible"},
    marks:[
      Plot.ruleX([0],{stroke:"#dcdcdc",strokeWidth:1}),
      Plot.ruleY([0],{stroke:"#dcdcdc",strokeWidth:1}),
      Plot.dot(pts,{x:"x",y:"y",fill:"g",r:1.65}),
      Plot.arrow(arrows,{x1:()=>0,y1:()=>0,x2:"x",y2:"y",bend:false,headLength:3.5,stroke:"#222",strokeWidth:.9}),
      ...labels.flatMap(l=>[
        Plot.dot([l],{x:"x",y:"y",symbol:roundBox,fill:"white",stroke:"#9d9df0",strokeWidth:1.1,r:6}),
        Plot.text([l],{x:"x",y:"y",text:"name",fill:"#2c2cdc",fontWeight:"bold",fontSize:7.4})
      ]),
      Plot.frame({stroke:"#808080",strokeWidth:1.3}),
      Plot.axisX({ticks:xTicks[i],tickFormat:d=>d<0?"\u2212"+(-d):String(d),label:null,tickSize:2,tickPadding:2,fontSize:7.6,color:"#555",stroke:"#555"}),
      Plot.axisY({ticks:[-3,0,3],tickFormat:d=>d<0?"\u2212"+(-d):String(d),label:null,tickSize:2,tickPadding:2,fontSize:7.6,color:"#555",stroke:"#555"}),
      Plot.text([xTitles[i]],{frameAnchor:"bottom",dy:17,lineAnchor:"middle",textAnchor:"middle",fontSize:8.9,fill:"#111"}),
      Plot.text([yTitles[i]],{frameAnchor:"left",dx:-19,rotate:-90,lineAnchor:"middle",textAnchor:"middle",fontSize:8.9,fill:"#111"})
    ]
  });
  svg.style.left=left+"px";svg.style.top=top+"px";
  root.appendChild(svg);
  const t=document.createElement("div");t.className="t";t.textContent=title;
  t.style.left=(left+marginLeft)+"px";t.style.top=(frameTops[i]-16)+"px";root.appendChild(t);
  groups.forEach((g,k)=>{
    const l=document.createElement("div");l.className="l";
    l.style.left=(left+marginLeft+10.7)+"px";l.style.top=(frameTops[i]+1.2+k*6.7)+"px";
    const dot=document.createElement("i");dot.style.background=colors[k];l.appendChild(dot);
    l.appendChild(document.createTextNode(g));root.appendChild(l);
  });
});
</script></body></html>
